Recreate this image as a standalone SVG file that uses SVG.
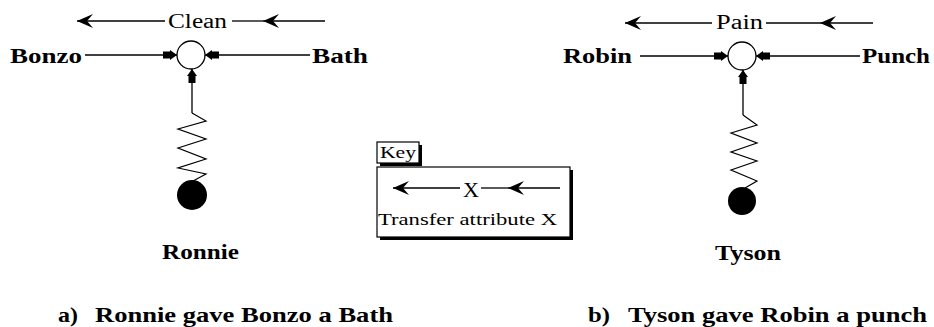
<svg xmlns="http://www.w3.org/2000/svg" width="934" height="327" viewBox="0 0 934 327">
<style>
.lbl{font-family:"Liberation Serif","Times New Roman",serif;font-weight:bold;font-size:22px;fill:#000}
.attr{font-family:"Liberation Serif","Times New Roman",serif;font-size:20px;fill:#000}
.key{font-family:"Liberation Serif","Times New Roman",serif;font-size:16px;fill:#000}
.ln{stroke:#000;stroke-width:1.3;fill:none}
.spring{stroke:#000;stroke-width:1.2;fill:none;stroke-linejoin:miter}
.node{fill:#fff;stroke:#000;stroke-width:1.3}
</style>
<defs>
<marker id="barb" viewBox="-18 -8 19 16" refX="0" refY="0" markerWidth="19" markerHeight="16" markerUnits="userSpaceOnUse" orient="auto" overflow="visible">
<path d="M0,0 L-16,-7 L-10,0 L-16,7 Z" fill="#000"/>
</marker>
<marker id="block" viewBox="-18 -7 19 14" refX="0" refY="0" markerWidth="19" markerHeight="14" markerUnits="userSpaceOnUse" orient="auto" overflow="visible">
<path d="M0,0 L-7,-5 L-7,-3.5 L-14,-3.5 L-14,3.5 L-7,3.5 L-7,5 Z" fill="#000"/>
</marker>
</defs>
<rect width="934" height="327" fill="#fff"/>

<g id="connectors">
<!-- left -->
<path class="ln" d="M165,21 L77,21" marker-end="url(#barb)"/>
<path class="ln" d="M325,21 L263,21" marker-end="url(#barb)"/>
<path class="ln" d="M263,21 L232,21"/>
<path class="ln" d="M85,55 L177,55" marker-end="url(#block)"/>
<path class="ln" d="M310,55 L205,55" marker-end="url(#block)"/>
<path class="ln" d="M192,113 L192,69" marker-end="url(#block)"/>
<polyline class="spring" points="192,113 206,121 178,129 206,139 178,148 206,159 178,168 206,174 193,181"/>
<!-- right -->
<path class="ln" d="M712,23 L625,23" marker-end="url(#barb)"/>
<path class="ln" d="M873,23 L820,23" marker-end="url(#barb)"/>
<path class="ln" d="M820,23 L766,23"/>
<path class="ln" d="M640,56 L728,56" marker-end="url(#block)"/>
<path class="ln" d="M860,56 L756,56" marker-end="url(#block)"/>
<path class="ln" d="M743,115 L743,70" marker-end="url(#block)"/>
<polyline class="spring" points="743,115 757,125 731,133 757,143 731,152 757,161 731,170 757,181 745,188"/>
</g>

<g id="left-diagram">
<text class="attr" x="168" y="28" textLength="59" lengthAdjust="spacingAndGlyphs">Clean</text>
<g id="bonzo"><text class="lbl" x="10" y="63" textLength="72" lengthAdjust="spacingAndGlyphs">Bonzo</text></g>
<g id="bath"><text class="lbl" x="312" y="63" textLength="56" lengthAdjust="spacingAndGlyphs">Bath</text></g>
<g id="node-a"><circle class="node" cx="191" cy="55" r="14"/></g>
<g id="ronnie-ball"><circle cx="192" cy="195" r="15" fill="#000"/></g>
<g id="ronnie"><text class="lbl" x="162" y="259" textLength="77" lengthAdjust="spacingAndGlyphs">Ronnie</text></g>
<g id="caption-a">
<text class="lbl" x="58" y="322" textLength="20" lengthAdjust="spacingAndGlyphs">a)</text>
<text class="lbl" x="95" y="322" textLength="298" lengthAdjust="spacingAndGlyphs">Ronnie gave Bonzo a Bath</text>
</g>
</g>

<g id="key">
<rect x="380" y="145" width="42" height="21" fill="#000"/>
<rect x="377" y="142" width="42" height="21" fill="#fff" stroke="#000" stroke-width="1.2"/>
<text class="key" x="380" y="158" textLength="36" lengthAdjust="spacingAndGlyphs">Key</text>
<rect x="380" y="170" width="193" height="70" fill="#000"/>
<rect x="377" y="167" width="193" height="70" fill="#fff" stroke="#000" stroke-width="1.2"/>
<g id="key-connector">
<path class="ln" d="M460,188 L393,188" marker-end="url(#barb)"/>
<path class="ln" d="M560,188 L508,188" marker-end="url(#barb)"/>
<path class="ln" d="M508,188 L481,188"/>
</g>
<text class="attr" x="463" y="197" textLength="16" lengthAdjust="spacingAndGlyphs">X</text>
<text class="key" x="378" y="225" textLength="179" lengthAdjust="spacingAndGlyphs">Transfer attribute X</text>
</g>

<g id="right-diagram">
<text class="attr" x="716" y="29" textLength="47" lengthAdjust="spacingAndGlyphs">Pain</text>
<g id="robin"><text class="lbl" x="563" y="63" textLength="69" lengthAdjust="spacingAndGlyphs">Robin</text></g>
<g id="punch"><text class="lbl" x="862" y="63" textLength="68" lengthAdjust="spacingAndGlyphs">Punch</text></g>
<g id="node-b"><circle class="node" cx="742" cy="56" r="14"/></g>
<g id="tyson-ball"><circle cx="742" cy="201" r="14" fill="#000"/></g>
<g id="tyson"><text class="lbl" x="715" y="260" textLength="66" lengthAdjust="spacingAndGlyphs">Tyson</text></g>
<g id="caption-b">
<text class="lbl" x="588" y="322" textLength="22" lengthAdjust="spacingAndGlyphs">b)</text>
<text class="lbl" x="628" y="322" textLength="299" lengthAdjust="spacingAndGlyphs">Tyson gave Robin a punch</text>
</g>
</g>
</svg>
